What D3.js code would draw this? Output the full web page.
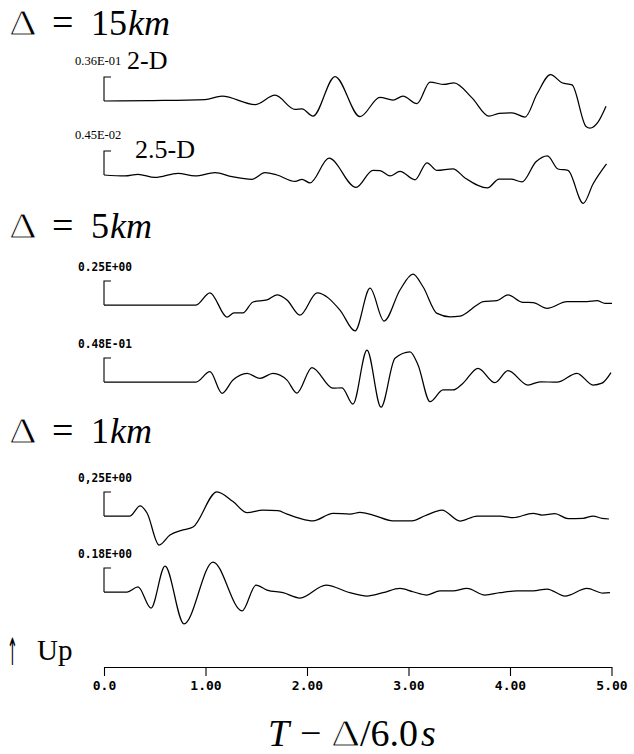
<!DOCTYPE html>
<html>
<head>
<meta charset="utf-8">
<script src="https://cdn.jsdelivr.net/npm/d3@7"></script>
<style>
  html, body { margin: 0; padding: 0; background: #fff; }
  svg { display: block; }
</style>
</head>
<body>
<svg id="chart" width="634" height="754"></svg>
<script>
// Reduced time axis, T - Δ/6.0 (s)
const timeTicks = [0, 1, 2, 3, 4, 5];
const timeTickLabels = ["0.0", "1.00", "2.00", "3.00", "4.00", "5.00"];

// Epicentral distances (km), one group of two traces each
const distances = ["15", "5", "1"];

// Scale-bar amplitude printed above each trace, and model label
const ampLabels = ["0.36E-01", "0.45E-02", "0.25E+00", "0.48E-01", "0,25E+00", "0.18E+00"];
const modelLabels = ["2-D", "2.5-D", "", "", "", ""];

// Vertical ground motion: [time (s), amplitude in scale-bar units]
const trace15km2D = [
  [0, 0], [0.453, 0.02], [0.995, 0.06], [1.163, 0.20], [1.488, -0.15], [1.685, 0.24],
  [1.882, -0.35], [1.951, -0.33], [2.059, -0.63], [2.276, 1.02], [2.522, -0.65],
  [2.719, 0.15], [2.847, 0.04], [2.946, 0.20], [3.084, -0.11], [3.212, 0.79],
  [3.350, 0.69], [3.448, 0.76], [3.626, 0.13], [3.793, -0.63], [3.892, -0.52],
  [4.020, -0.49], [4.148, -0.67], [4.266, 0.29], [4.399, 1.10], [4.512, 0.76],
  [4.611, 0.67], [4.749, -1.06], [4.788, -1.13], [4.867, -0.88], [4.946, -0.22]
];
const trace15km25D = [
  [0, 0], [0.207, -0.04], [0.335, 0.03], [0.502, -0.10], [0.729, 0.07], [0.897, -0.04],
  [1.094, 0.10], [1.261, -0.07], [1.458, -0.18], [1.586, 0.10], [1.704, 0.0],
  [1.882, -0.27], [1.951, -0.18], [2.030, -0.33], [2.217, 0.70], [2.483, -0.52],
  [2.650, 0.19], [2.719, 0.18], [2.818, -0.04], [2.916, 0.15], [3.064, -0.20],
  [3.182, 0.51], [3.281, 0.19], [3.438, 0.26], [3.557, -0.125], [3.778, -0.54],
  [3.892, -0.17], [4.010, -0.17], [4.118, -0.29], [4.256, 0.55], [4.369, 0.80],
  [4.473, 0.25], [4.571, 0.19], [4.722, -1.18], [4.818, -0.375], [4.951, 0.46]
];
const trace5km2D = [
  [0, 0], [0.906, 0], [1.044, 0.51], [1.212, -0.50], [1.281, -0.33], [1.369, -0.33],
  [1.468, 0.125], [1.606, 0.21], [1.704, 0.42], [1.803, 0.21], [1.931, -0.42],
  [2.099, 0.51], [2.325, -0.21], [2.473, -1.08], [2.621, 0.70], [2.759, -0.67],
  [2.916, 0.625], [3.044, 1.29], [3.143, 0.76], [3.281, -0.35], [3.409, -0.49],
  [3.507, -0.46], [3.675, 0], [3.734, 0.14], [3.872, 0.18], [3.980, 0.42],
  [4.128, 0.11], [4.227, 0.10], [4.365, -0.14], [4.562, 0.14], [4.759, 0.14],
  [4.857, 0.18], [4.936, 0.07], [5.005, 0.07]
];
const trace5km25D = [
  [0, 0], [0.906, 0], [1.044, 0.43], [1.163, -0.47], [1.271, 0.08], [1.409, 0.36],
  [1.537, 0.15], [1.665, 0.36], [1.803, 0.08], [1.901, -0.46], [2.049, 0.60],
  [2.256, -0.26], [2.345, -0.24], [2.453, -0.92], [2.591, 1.33], [2.729, -1.05],
  [2.867, 0.99], [3.015, 1.26], [3.094, 0.71], [3.212, -0.82], [3.340, -0.33],
  [3.438, -0.33], [3.537, -0.05], [3.685, 0.57], [3.852, -0.03], [3.980, 0.47],
  [4.177, -0.125], [4.296, 0.01], [4.463, -0.01], [4.660, 0.36], [4.818, -0.125],
  [4.906, -0.05], [4.995, 0.39]
];
const trace1km2D = [
  [0, 0], [0.256, 0], [0.355, 0.42], [0.424, 0.125], [0.542, -1.21], [0.650, -0.79],
  [0.778, -0.58], [0.877, -0.46], [1.113, 1.01], [1.271, 0.60], [1.409, 0.14],
  [1.567, 0.25], [1.714, 0.22], [1.803, 0.08], [1.931, -0.10], [2.059, -0.20],
  [2.256, 0.11], [2.424, 0.08], [2.522, 0.15], [2.650, 0.04], [2.847, -0.20],
  [3.034, -0.20], [3.163, 0.01], [3.330, 0.25], [3.507, -0.21], [3.675, 0],
  [3.901, 0], [4.030, -0.07], [4.227, 0.11], [4.315, 0.04], [4.443, 0.10],
  [4.571, -0.11], [4.719, -0.10], [4.818, 0], [4.906, -0.10], [4.975, -0.125]
];
const trace1km25D = [
  [0, 0], [0.227, 0], [0.335, 0.21], [0.463, -0.67], [0.601, 1.08], [0.788, -1.33],
  [1.074, 1.25], [1.360, -0.79], [1.498, 0.29], [1.606, 0.08], [1.764, -0.03],
  [1.931, -0.25], [2.187, 0.29], [2.424, -0.03], [2.591, -0.17], [2.749, -0.03],
  [2.916, 0.15], [3.044, 0.01], [3.182, -0.125], [3.310, 0.05], [3.438, 0.05],
  [3.576, 0.15], [3.754, -0.125], [3.901, -0.03], [4.069, 0.05], [4.227, 0.05],
  [4.365, 0.125], [4.542, -0.17], [4.759, 0.15], [4.916, -0.05], [4.985, -0.03]
];

const traces = [trace15km2D, trace15km25D, trace5km2D, trace5km25D, trace1km2D, trace1km25D];

// ---- layout ----
const svg = d3.select("#chart");
const x = d3.scaleLinear().domain([0, 5]).range([104, 611.5]);

const headerBaselines = [35, 238, 443];
const traceBaselines = [101, 175, 305, 382, 516, 592];
const barPx = 24; // height of the one-unit scale bar

const serif = "'Liberation Serif', 'Times New Roman', serif";
const mono = "'DejaVu Sans Mono', 'Liberation Mono', monospace";

// thin-stroked Δ: white halo trims the heavy serif glyph
function delta(sel, tx, ty, size) {
  sel.append("text")
    .attr("transform", `translate(${tx},${ty}) scale(1.2,1)`)
    .attr("font-family", serif).attr("font-size", size)
    .attr("fill", "#000").attr("stroke", "#fff").attr("stroke-width", 0.9)
    .attr("paint-order", "fill stroke")
    .text("Δ");
}

// Distance headers: Δ = N km
distances.forEach((d, i) => {
  const yb = headerBaselines[i];
  const g = svg.append("g").attr("font-family", serif).attr("font-size", 36).attr("fill", "#000");
  delta(g, 9, yb, 36);
  g.append("text").attr("x", 52).attr("y", yb).attr("font-size", 38).text("=");
  const t = g.append("text").attr("x", 91).attr("y", yb);
  t.append("tspan").text(d);
  t.append("tspan").attr("font-style", "italic").attr("dx", 1).text("km");
});

const line = d3.line().curve(d3.curveMonotoneX);

traces.forEach((tr, i) => {
  const base = traceBaselines[i];
  const y = d3.scaleLinear().domain([0, 1]).range([base, base - barPx]);
  line.x(d => x(d[0])).y(d => y(d[1]));

  const g = svg.append("g");
  // scale bar bracket
  g.append("path")
    .attr("d", `M${x(0) + 7},${y(1)}H${x(0)}V${y(0)}`)
    .attr("fill", "none").attr("stroke", "#000").attr("stroke-width", 1.1);
  // trace
  g.append("path")
    .datum(tr)
    .attr("d", line)
    .attr("fill", "none").attr("stroke", "#000").attr("stroke-width", 1.25)
    .attr("stroke-linejoin", "round");

  const small = i < 2;
  g.append("text")
    .attr("x", small ? 75 : 78)
    .attr("y", y(1) - (small ? 12 : 10))
    .attr("font-family", small ? serif : mono)
    .attr("font-size", small ? 12.5 : 12.5)
    .attr("font-weight", small ? "normal" : "bold")
    .attr("textLength", small ? null : 54)
    .attr("lengthAdjust", "spacingAndGlyphs")
    .attr("fill", "#000")
    .text(ampLabels[i]);

  if (modelLabels[i]) {
    g.append("text")
      .attr("x", i === 0 ? 127 : 135)
      .attr("y", i === 0 ? 69 : 158)
      .attr("font-family", serif).attr("font-size", 26).attr("fill", "#000")
      .text(modelLabels[i]);
  }
});

// Polarity note
svg.append("text")
  .attr("transform", "translate(7,665) scale(0.5,1.45)")
  .attr("font-family", "'DejaVu Sans', sans-serif").attr("font-size", 26).attr("fill", "#000")
  .text("↑");
svg.append("text").attr("x", 37).attr("y", 660)
  .attr("font-family", serif).attr("font-size", 29).attr("fill", "#000")
  .text("Up");

// Time axis
const axis = d3.axisBottom(x)
  .tickValues(timeTicks)
  .tickFormat((d, i) => timeTickLabels[i])
  .tickSize(9).tickSizeOuter(0).tickPadding(5);
const ax = svg.append("g").attr("transform", "translate(0,667)").call(axis);
ax.selectAll("path, line").attr("stroke", "#000").attr("stroke-width", 1.1);
ax.selectAll("text").attr("font-family", mono).attr("font-size", 13)
  .attr("font-weight", "bold").attr("fill", "#000");

// Axis title: T − Δ/6.0s
const xt = svg.append("g").attr("font-family", serif).attr("font-size", 38).attr("fill", "#000");
const yt = 746;
xt.append("text").attr("x", 268).attr("y", yt).attr("font-style", "italic").text("T");
xt.append("text").attr("x", 300).attr("y", yt).text("−");
delta(xt, 331, yt, 38);
xt.append("text").attr("x", 360).attr("y", yt).text("/6.0");
xt.append("text").attr("x", 421).attr("y", yt).attr("font-style", "italic").text("s");
</script>
</body>
</html>
